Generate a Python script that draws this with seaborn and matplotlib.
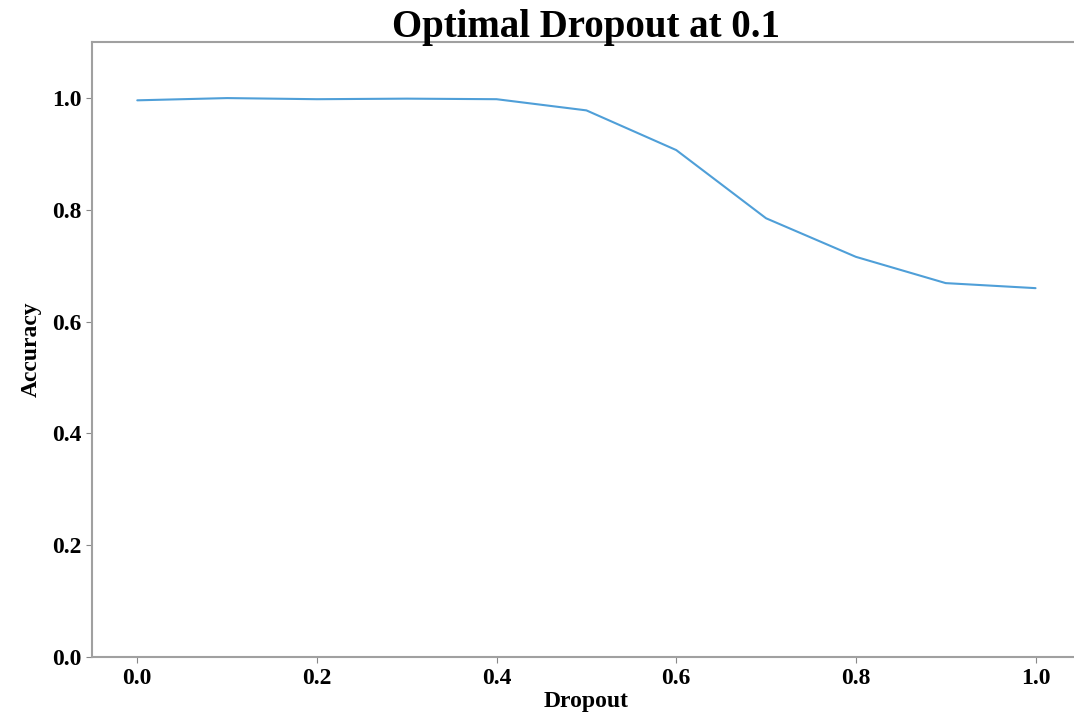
import pandas as pd
import matplotlib
matplotlib.use("Agg")
import matplotlib.pyplot as plt
import seaborn as sns

# Data
dropout = [0.0, 0.1, 0.2, 0.3, 0.4, 0.5, 0.6, 0.7, 0.8, 0.9, 1.0]
accuracy = [0.996, 1.0, 0.998, 0.999, 0.998, 0.978, 0.907, 0.785, 0.716, 0.669, 0.660]

df = pd.DataFrame({"dropout": dropout, "accuracy": accuracy})

sns.set_style("white")
plt.rcParams["font.family"] = ["Liberation Serif", "DejaVu Serif"]
plt.rcParams["font.weight"] = "bold"
plt.rcParams["text.color"] = "black"
plt.rcParams["axes.labelcolor"] = "black"
plt.rcParams["xtick.color"] = "black"
plt.rcParams["ytick.color"] = "black"

fig = plt.figure(figsize=(10.74, 7.15), dpi=100)
ax = fig.add_axes([0.086, 0.081, 0.92, 0.86])

sns.lineplot(data=df, x="dropout", y="accuracy", color="#4f9fd8", linewidth=1.5, ax=ax)

ax.set_xlim(-0.05, 1.05)
ax.set_ylim(0, 1.1)
ax.set_xticks([0.0, 0.2, 0.4, 0.6, 0.8, 1.0])
ax.set_yticks([0.0, 0.2, 0.4, 0.6, 0.8, 1.0])
ax.tick_params(axis="both", labelsize=17, length=4, color="#888888", labelcolor="black",
               direction="out", bottom=True, left=True)
for lab in ax.get_xticklabels() + ax.get_yticklabels():
    lab.set_fontweight("bold")

ax.set_title("Optimal Dropout at 0.1", fontsize=28, fontweight="bold", pad=4, color="black")
ax.set_xlabel("Dropout", fontsize=17, fontweight="bold", labelpad=2)
ax.set_ylabel("Accuracy", fontsize=17, fontweight="bold", labelpad=8)

for s in ax.spines.values():
    s.set_color("#a0a0a0")
    s.set_linewidth(1.5)

fig.savefig("out.png", dpi=100)
plt.close()
